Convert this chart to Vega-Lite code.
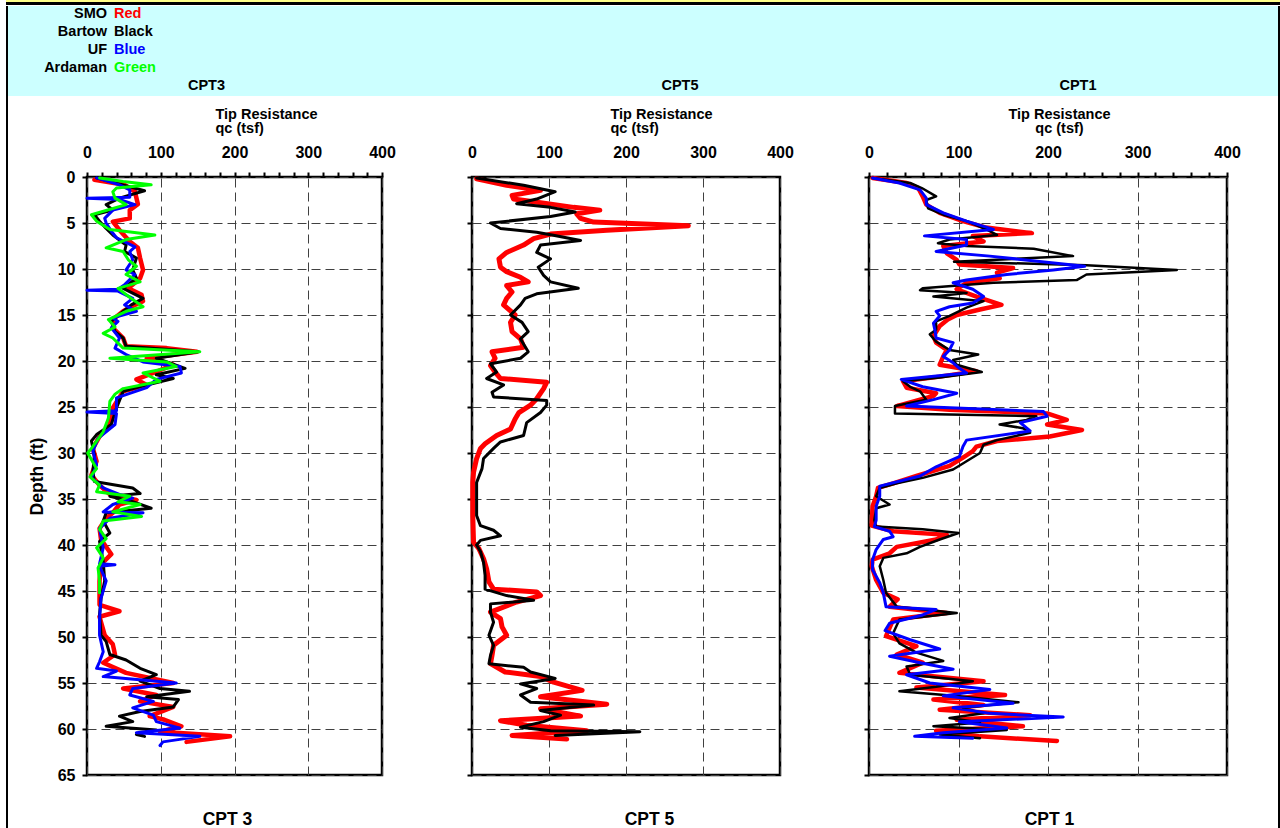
{
  "$schema": "https://vega.github.io/schema/vega-lite/v6.json",
  "padding": {"left": 6, "top": 0, "right": 0, "bottom": 0},
  "autosize": {"type": "pad"},
  "background": "white",
  "config": {
    "view": {"stroke": null},
    "font": "Liberation Sans",
    "axis": {"labelFont": "Liberation Sans", "titleFont": "Liberation Sans"},
    "title": {"font": "Liberation Sans"},
    "text": {"font": "Liberation Sans"}
  },
  "datasets": {
    "cpt3_smo": [{"depth":0.3,"qc":10},{"depth":0.85,"qc":51},{"depth":1.6,"qc":65},{"depth":2.95,"qc":69},{"depth":3.6,"qc":58},{"depth":4.5,"qc":58},{"depth":4.85,"qc":35},{"depth":5.75,"qc":44},{"depth":7.0,"qc":58},{"depth":7.7,"qc":69},{"depth":8.8,"qc":72},{"depth":10.1,"qc":76},{"depth":11.0,"qc":72},{"depth":12.1,"qc":56},{"depth":12.8,"qc":74},{"depth":13.5,"qc":76},{"depth":14.1,"qc":60},{"depth":14.6,"qc":49},{"depth":15.3,"qc":38},{"depth":16.4,"qc":35},{"depth":17.5,"qc":49},{"depth":18.4,"qc":53},{"depth":18.6,"qc":108},{"depth":19.0,"qc":149},{"depth":19.7,"qc":81},{"depth":20.4,"qc":117},{"depth":21.3,"qc":90},{"depth":22.0,"qc":67},{"depth":22.6,"qc":81},{"depth":23.3,"qc":49},{"depth":25.1,"qc":35},{"depth":26.9,"qc":31},{"depth":28.2,"qc":17},{"depth":29.5,"qc":8},{"depth":30.9,"qc":13},{"depth":32.4,"qc":6},{"depth":33.5,"qc":17},{"depth":34.5,"qc":31},{"depth":35.1,"qc":67},{"depth":35.6,"qc":44},{"depth":36.5,"qc":35},{"depth":37.1,"qc":26},{"depth":38.2,"qc":17},{"depth":39.4,"qc":19},{"depth":41.0,"qc":33},{"depth":42.1,"qc":19},{"depth":43.9,"qc":17},{"depth":45.4,"qc":17},{"depth":46.5,"qc":17},{"depth":47.2,"qc":44},{"depth":47.8,"qc":17},{"depth":49.8,"qc":24},{"depth":50.8,"qc":35},{"depth":51.9,"qc":38},{"depth":52.8,"qc":22},{"depth":53.9,"qc":53},{"depth":55.0,"qc":117},{"depth":55.6,"qc":49},{"depth":56.3,"qc":94},{"depth":57.0,"qc":72},{"depth":57.6,"qc":117},{"depth":58.6,"qc":85},{"depth":59.0,"qc":105},{"depth":59.7,"qc":128},{"depth":60.3,"qc":99},{"depth":60.8,"qc":194},{"depth":61.4,"qc":135}],
    "cpt3_bartow": [{"depth":0.1,"qc":13},{"depth":1.5,"qc":78},{"depth":2.3,"qc":44},{"depth":3.0,"qc":26},{"depth":3.6,"qc":35},{"depth":4.1,"qc":10},{"depth":4.8,"qc":17},{"depth":5.6,"qc":26},{"depth":6.3,"qc":35},{"depth":7.4,"qc":53},{"depth":8.1,"qc":51},{"depth":8.8,"qc":67},{"depth":10.1,"qc":62},{"depth":11.0,"qc":67},{"depth":12.1,"qc":49},{"depth":13.2,"qc":76},{"depth":13.9,"qc":60},{"depth":14.6,"qc":49},{"depth":15.7,"qc":33},{"depth":16.8,"qc":38},{"depth":17.5,"qc":49},{"depth":18.4,"qc":53},{"depth":19.0,"qc":151},{"depth":19.7,"qc":94},{"depth":20.8,"qc":133},{"depth":21.5,"qc":94},{"depth":21.9,"qc":117},{"depth":22.6,"qc":81},{"depth":23.3,"qc":49},{"depth":25.1,"qc":40},{"depth":26.9,"qc":33},{"depth":28.0,"qc":13},{"depth":28.7,"qc":6},{"depth":30.2,"qc":10},{"depth":32.0,"qc":8},{"depth":33.1,"qc":10},{"depth":33.8,"qc":62},{"depth":34.4,"qc":72},{"depth":34.7,"qc":31},{"depth":35.3,"qc":62},{"depth":36.0,"qc":87},{"depth":36.5,"qc":26},{"depth":37.4,"qc":22},{"depth":38.7,"qc":31},{"depth":39.6,"qc":17},{"depth":41.8,"qc":22},{"depth":43.9,"qc":24},{"depth":45.8,"qc":19},{"depth":47.6,"qc":17},{"depth":49.8,"qc":19},{"depth":50.5,"qc":26},{"depth":51.9,"qc":31},{"depth":52.5,"qc":53},{"depth":53.4,"qc":72},{"depth":54.1,"qc":94},{"depth":54.8,"qc":72},{"depth":55.6,"qc":99},{"depth":55.9,"qc":139},{"depth":56.5,"qc":81},{"depth":56.8,"qc":124},{"depth":57.6,"qc":117},{"depth":58.1,"qc":72},{"depth":58.6,"qc":44},{"depth":59.2,"qc":62},{"depth":59.7,"qc":26},{"depth":60.1,"qc":94},{"depth":60.6,"qc":67},{"depth":60.8,"qc":78}],
    "cpt3_uf": [{"depth":0.1,"qc":13},{"depth":0.85,"qc":44},{"depth":1.4,"qc":58},{"depth":2.2,"qc":58},{"depth":2.3,"qc":0},{"depth":2.45,"qc":44},{"depth":3.0,"qc":65},{"depth":3.6,"qc":35},{"depth":4.5,"qc":24},{"depth":5.0,"qc":26},{"depth":5.9,"qc":33},{"depth":6.6,"qc":40},{"depth":7.6,"qc":65},{"depth":8.1,"qc":58},{"depth":9.0,"qc":62},{"depth":10.1,"qc":53},{"depth":10.6,"qc":65},{"depth":11.7,"qc":51},{"depth":12.2,"qc":42},{"depth":12.3,"qc":0},{"depth":12.4,"qc":42},{"depth":13.2,"qc":62},{"depth":13.9,"qc":51},{"depth":14.6,"qc":67},{"depth":15.3,"qc":35},{"depth":15.7,"qc":42},{"depth":16.4,"qc":33},{"depth":17.5,"qc":44},{"depth":18.6,"qc":38},{"depth":19.3,"qc":53},{"depth":20.1,"qc":76},{"depth":20.6,"qc":126},{"depth":21.3,"qc":128},{"depth":22.0,"qc":94},{"depth":22.9,"qc":81},{"depth":24.0,"qc":40},{"depth":25.4,"qc":40},{"depth":25.55,"qc":0},{"depth":25.7,"qc":40},{"depth":26.9,"qc":38},{"depth":28.4,"qc":15},{"depth":29.8,"qc":8},{"depth":31.3,"qc":13},{"depth":32.7,"qc":6},{"depth":33.8,"qc":22},{"depth":34.5,"qc":44},{"depth":34.9,"qc":62},{"depth":35.6,"qc":35},{"depth":36.4,"qc":22},{"depth":36.5,"qc":76},{"depth":37.1,"qc":31},{"depth":38.2,"qc":17},{"depth":40.3,"qc":22},{"depth":42.05,"qc":17},{"depth":42.15,"qc":38},{"depth":42.3,"qc":17},{"depth":43.9,"qc":26},{"depth":45.8,"qc":19},{"depth":48.0,"qc":17},{"depth":49.8,"qc":17},{"depth":51.6,"qc":22},{"depth":52.7,"qc":17},{"depth":53.4,"qc":13},{"depth":53.7,"qc":40},{"depth":54.3,"qc":22},{"depth":55.0,"qc":121},{"depth":55.6,"qc":62},{"depth":56.3,"qc":58},{"depth":57.0,"qc":90},{"depth":57.7,"qc":62},{"depth":58.5,"qc":90},{"depth":59.2,"qc":94},{"depth":59.9,"qc":126},{"depth":60.4,"qc":67},{"depth":60.8,"qc":153},{"depth":61.4,"qc":103},{"depth":61.8,"qc":99}],
    "cpt3_ardaman": [{"depth":0.1,"qc":17},{"depth":0.5,"qc":49},{"depth":0.85,"qc":87},{"depth":1.2,"qc":40},{"depth":1.6,"qc":35},{"depth":2.3,"qc":38},{"depth":3.0,"qc":53},{"depth":4.1,"qc":6},{"depth":4.8,"qc":13},{"depth":5.7,"qc":31},{"depth":6.3,"qc":92},{"depth":6.8,"qc":53},{"depth":7.7,"qc":26},{"depth":8.1,"qc":49},{"depth":9.0,"qc":56},{"depth":9.7,"qc":67},{"depth":10.6,"qc":53},{"depth":11.4,"qc":72},{"depth":12.1,"qc":42},{"depth":13.2,"qc":60},{"depth":14.1,"qc":76},{"depth":14.6,"qc":53},{"depth":15.5,"qc":29},{"depth":16.3,"qc":38},{"depth":17.0,"qc":22},{"depth":17.5,"qc":35},{"depth":18.6,"qc":49},{"depth":19.0,"qc":153},{"depth":19.7,"qc":31},{"depth":20.1,"qc":108},{"depth":20.6,"qc":121},{"depth":21.3,"qc":76},{"depth":22.2,"qc":99},{"depth":23.0,"qc":49},{"depth":23.6,"qc":38},{"depth":24.4,"qc":31},{"depth":26.2,"qc":29},{"depth":27.7,"qc":22},{"depth":29.5,"qc":6},{"depth":30.0,"qc":1},{"depth":31.7,"qc":13},{"depth":32.6,"qc":4},{"depth":33.5,"qc":17},{"depth":34.2,"qc":13},{"depth":34.7,"qc":58},{"depth":35.3,"qc":42},{"depth":35.6,"qc":72},{"depth":36.4,"qc":35},{"depth":36.9,"qc":74},{"depth":37.4,"qc":22},{"depth":38.3,"qc":17},{"depth":39.3,"qc":26},{"depth":40.3,"qc":13},{"depth":41.4,"qc":22},{"depth":42.5,"qc":15},{"depth":43.9,"qc":17},{"depth":45.2,"qc":17}],
    "cpt5_smo": [{"depth":0.2,"qc":6},{"depth":0.9,"qc":45},{"depth":1.45,"qc":89},{"depth":2.0,"qc":52},{"depth":2.4,"qc":54},{"depth":2.7,"qc":80},{"depth":3.3,"qc":132},{"depth":3.6,"qc":166},{"depth":4.0,"qc":136},{"depth":4.5,"qc":141},{"depth":4.9,"qc":158},{"depth":5.3,"qc":281},{"depth":5.8,"qc":175},{"depth":6.2,"qc":102},{"depth":6.7,"qc":80},{"depth":7.4,"qc":67},{"depth":8.2,"qc":45},{"depth":8.9,"qc":35},{"depth":9.8,"qc":37},{"depth":10.3,"qc":45},{"depth":10.9,"qc":63},{"depth":11.4,"qc":73},{"depth":11.8,"qc":45},{"depth":12.5,"qc":52},{"depth":13.2,"qc":45},{"depth":13.9,"qc":41},{"depth":15.0,"qc":56},{"depth":15.8,"qc":50},{"depth":16.8,"qc":52},{"depth":17.6,"qc":63},{"depth":18.5,"qc":67},{"depth":19.0,"qc":26},{"depth":19.7,"qc":30},{"depth":20.5,"qc":24},{"depth":21.2,"qc":30},{"depth":21.9,"qc":37},{"depth":22.3,"qc":97},{"depth":23.0,"qc":93},{"depth":24.1,"qc":84},{"depth":24.8,"qc":76},{"depth":25.6,"qc":61},{"depth":26.3,"qc":56},{"depth":27.4,"qc":50},{"depth":28.1,"qc":32},{"depth":29.0,"qc":17},{"depth":29.5,"qc":11},{"depth":30.6,"qc":6},{"depth":32.1,"qc":2},{"depth":33.2,"qc":1},{"depth":36.8,"qc":1},{"depth":39.7,"qc":2},{"depth":40.4,"qc":9},{"depth":41.5,"qc":15},{"depth":42.6,"qc":19},{"depth":44.0,"qc":22},{"depth":44.8,"qc":28},{"depth":45.1,"qc":84},{"depth":45.5,"qc":89},{"depth":46.2,"qc":58},{"depth":47.3,"qc":24},{"depth":48.0,"qc":37},{"depth":48.9,"qc":39},{"depth":49.8,"qc":45},{"depth":50.9,"qc":28},{"depth":52.0,"qc":26},{"depth":52.9,"qc":24},{"depth":53.8,"qc":43},{"depth":54.3,"qc":89},{"depth":54.9,"qc":106},{"depth":55.8,"qc":143},{"depth":56.5,"qc":89},{"depth":57.3,"qc":175},{"depth":57.8,"qc":89},{"depth":58.6,"qc":141},{"depth":59.1,"qc":37},{"depth":59.6,"qc":71},{"depth":60.2,"qc":149},{"depth":60.7,"qc":52},{"depth":61.1,"qc":123}],
    "cpt5_bartow": [{"depth":0.1,"qc":6},{"depth":0.9,"qc":67},{"depth":1.6,"qc":108},{"depth":2.4,"qc":84},{"depth":2.9,"qc":58},{"depth":3.3,"qc":102},{"depth":3.8,"qc":134},{"depth":4.3,"qc":102},{"depth":5.0,"qc":24},{"depth":5.6,"qc":37},{"depth":6.0,"qc":84},{"depth":6.3,"qc":104},{"depth":6.9,"qc":141},{"depth":7.4,"qc":89},{"depth":8.2,"qc":84},{"depth":8.9,"qc":102},{"depth":9.8,"qc":86},{"depth":10.7,"qc":93},{"depth":11.4,"qc":102},{"depth":12.1,"qc":138},{"depth":12.7,"qc":84},{"depth":13.2,"qc":69},{"depth":13.9,"qc":63},{"depth":15.0,"qc":50},{"depth":15.8,"qc":65},{"depth":16.8,"qc":73},{"depth":17.6,"qc":63},{"depth":19.0,"qc":73},{"depth":19.7,"qc":63},{"depth":20.3,"qc":24},{"depth":21.2,"qc":32},{"depth":21.9,"qc":19},{"depth":22.6,"qc":41},{"depth":23.4,"qc":26},{"depth":23.9,"qc":28},{"depth":24.3,"qc":97},{"depth":24.8,"qc":97},{"depth":25.6,"qc":89},{"depth":26.7,"qc":71},{"depth":28.1,"qc":67},{"depth":28.8,"qc":37},{"depth":29.5,"qc":28},{"depth":30.6,"qc":15},{"depth":31.7,"qc":13},{"depth":33.2,"qc":6},{"depth":36.8,"qc":6},{"depth":37.9,"qc":11},{"depth":38.4,"qc":28},{"depth":39.0,"qc":37},{"depth":39.5,"qc":11},{"depth":40.0,"qc":6},{"depth":40.7,"qc":11},{"depth":41.9,"qc":15},{"depth":43.3,"qc":17},{"depth":44.8,"qc":17},{"depth":45.5,"qc":45},{"depth":46.0,"qc":80},{"depth":46.4,"qc":24},{"depth":47.3,"qc":24},{"depth":48.4,"qc":28},{"depth":49.8,"qc":22},{"depth":50.9,"qc":28},{"depth":52.0,"qc":24},{"depth":52.9,"qc":22},{"depth":53.3,"qc":67},{"depth":53.8,"qc":76},{"depth":54.5,"qc":108},{"depth":55.1,"qc":63},{"depth":55.6,"qc":84},{"depth":56.3,"qc":63},{"depth":57.1,"qc":76},{"depth":57.4,"qc":158},{"depth":58.0,"qc":89},{"depth":58.5,"qc":115},{"depth":59.2,"qc":93},{"depth":59.8,"qc":63},{"depth":60.2,"qc":102},{"depth":60.3,"qc":218},{"depth":60.7,"qc":108}],
    "cpt1_smo": [{"depth":0.1,"qc":4},{"depth":0.65,"qc":42},{"depth":1.2,"qc":55},{"depth":2.1,"qc":60},{"depth":3.0,"qc":64},{"depth":3.9,"qc":79},{"depth":4.8,"qc":105},{"depth":5.5,"qc":131},{"depth":6.1,"qc":182},{"depth":6.4,"qc":116},{"depth":7.0,"qc":128},{"depth":7.5,"qc":83},{"depth":8.3,"qc":87},{"depth":9.0,"qc":98},{"depth":9.5,"qc":101},{"depth":9.9,"qc":161},{"depth":10.4,"qc":143},{"depth":11.0,"qc":146},{"depth":11.5,"qc":109},{"depth":12.2,"qc":98},{"depth":13.0,"qc":120},{"depth":13.9,"qc":148},{"depth":14.4,"qc":124},{"depth":15.0,"qc":98},{"depth":15.5,"qc":88},{"depth":16.2,"qc":79},{"depth":17.3,"qc":72},{"depth":18.0,"qc":75},{"depth":18.8,"qc":87},{"depth":19.5,"qc":83},{"depth":20.4,"qc":79},{"depth":21.1,"qc":120},{"depth":21.7,"qc":79},{"depth":22.2,"qc":38},{"depth":22.9,"qc":42},{"depth":23.5,"qc":75},{"depth":23.8,"qc":72},{"depth":24.9,"qc":31},{"depth":25.3,"qc":90},{"depth":25.7,"qc":199},{"depth":26.4,"qc":221},{"depth":26.9,"qc":199},{"depth":27.5,"qc":238},{"depth":28.2,"qc":202},{"depth":28.7,"qc":143},{"depth":29.3,"qc":120},{"depth":29.8,"qc":116},{"depth":30.5,"qc":105},{"depth":31.4,"qc":90},{"depth":32.5,"qc":53},{"depth":33.3,"qc":27},{"depth":33.8,"qc":10},{"depth":34.7,"qc":8},{"depth":35.8,"qc":4},{"depth":37.9,"qc":3},{"depth":38.5,"qc":27},{"depth":38.9,"qc":87},{"depth":39.4,"qc":75},{"depth":40.2,"qc":31},{"depth":40.9,"qc":23},{"depth":41.6,"qc":4},{"depth":42.3,"qc":3},{"depth":43.8,"qc":8},{"depth":45.2,"qc":16},{"depth":45.9,"qc":32},{"depth":46.7,"qc":23},{"depth":47.4,"qc":87},{"depth":48.1,"qc":27},{"depth":49.9,"qc":19},{"depth":51.0,"qc":53},{"depth":51.9,"qc":31},{"depth":52.8,"qc":60},{"depth":53.9,"qc":34},{"depth":54.8,"qc":128},{"depth":55.5,"qc":53},{"depth":56.3,"qc":152},{"depth":56.8,"qc":72},{"depth":57.4,"qc":128},{"depth":57.9,"qc":79},{"depth":58.5,"qc":180},{"depth":59.0,"qc":98},{"depth":59.7,"qc":172},{"depth":60.2,"qc":75},{"depth":60.8,"qc":124},{"depth":61.3,"qc":210}],
    "cpt1_bartow": [{"depth":0.1,"qc":4},{"depth":0.65,"qc":46},{"depth":1.2,"qc":59},{"depth":2.1,"qc":75},{"depth":2.5,"qc":64},{"depth":3.4,"qc":66},{"depth":4.1,"qc":83},{"depth":4.8,"qc":109},{"depth":5.7,"qc":131},{"depth":6.3,"qc":143},{"depth":6.8,"qc":90},{"depth":7.2,"qc":77},{"depth":7.5,"qc":109},{"depth":7.8,"qc":184},{"depth":8.6,"qc":228},{"depth":9.2,"qc":95},{"depth":9.6,"qc":243},{"depth":10.1,"qc":344},{"depth":10.6,"qc":243},{"depth":11.2,"qc":232},{"depth":11.5,"qc":139},{"depth":12.1,"qc":60},{"depth":12.3,"qc":57},{"depth":12.6,"qc":109},{"depth":13.0,"qc":72},{"depth":13.5,"qc":128},{"depth":14.2,"qc":109},{"depth":15.1,"qc":90},{"depth":15.7,"qc":75},{"depth":16.6,"qc":75},{"depth":17.1,"qc":68},{"depth":17.9,"qc":75},{"depth":18.8,"qc":90},{"depth":19.3,"qc":122},{"depth":19.9,"qc":94},{"depth":20.4,"qc":98},{"depth":21.2,"qc":126},{"depth":21.8,"qc":79},{"depth":22.2,"qc":38},{"depth":22.8,"qc":46},{"depth":23.3,"qc":57},{"depth":24.2,"qc":64},{"depth":24.9,"qc":29},{"depth":25.7,"qc":29},{"depth":26.0,"qc":187},{"depth":26.4,"qc":176},{"depth":26.9,"qc":146},{"depth":27.3,"qc":172},{"depth":27.8,"qc":180},{"depth":28.6,"qc":143},{"depth":29.1,"qc":128},{"depth":30.0,"qc":124},{"depth":30.9,"qc":109},{"depth":31.8,"qc":94},{"depth":32.7,"qc":60},{"depth":33.3,"qc":31},{"depth":33.8,"qc":12},{"depth":34.7,"qc":8},{"depth":35.6,"qc":23},{"depth":36.0,"qc":8},{"depth":37.3,"qc":6},{"depth":38.0,"qc":8},{"depth":38.3,"qc":60},{"depth":38.7,"qc":100},{"depth":39.4,"qc":79},{"depth":40.2,"qc":57},{"depth":40.9,"qc":42},{"depth":41.4,"qc":16},{"depth":42.3,"qc":12},{"depth":43.8,"qc":16},{"depth":45.2,"qc":19},{"depth":46.7,"qc":31},{"depth":47.4,"qc":98},{"depth":48.1,"qc":34},{"depth":49.6,"qc":27},{"depth":50.7,"qc":34},{"depth":51.7,"qc":53},{"depth":52.6,"qc":83},{"depth":53.2,"qc":42},{"depth":54.1,"qc":46},{"depth":54.8,"qc":116},{"depth":55.4,"qc":75},{"depth":55.9,"qc":34},{"depth":56.4,"qc":98},{"depth":57.1,"qc":167},{"depth":57.7,"qc":105},{"depth":58.3,"qc":128},{"depth":58.8,"qc":90},{"depth":59.3,"qc":124},{"depth":59.7,"qc":72},{"depth":60.1,"qc":154},{"depth":60.6,"qc":79},{"depth":61.0,"qc":124}],
    "cpt1_uf": [{"depth":0.1,"qc":4},{"depth":0.65,"qc":34},{"depth":1.4,"qc":57},{"depth":2.3,"qc":64},{"depth":3.0,"qc":64},{"depth":3.9,"qc":83},{"depth":4.8,"qc":109},{"depth":5.7,"qc":139},{"depth":6.4,"qc":62},{"depth":6.8,"qc":109},{"depth":7.4,"qc":109},{"depth":8.1,"qc":75},{"depth":8.6,"qc":135},{"depth":9.7,"qc":241},{"depth":10.1,"qc":206},{"depth":10.6,"qc":154},{"depth":11.2,"qc":109},{"depth":11.5,"qc":94},{"depth":12.2,"qc":116},{"depth":13.0,"qc":128},{"depth":13.7,"qc":116},{"depth":14.1,"qc":90},{"depth":14.6,"qc":75},{"depth":15.1,"qc":79},{"depth":15.9,"qc":72},{"depth":16.8,"qc":74},{"depth":17.5,"qc":75},{"depth":18.0,"qc":94},{"depth":18.8,"qc":90},{"depth":19.5,"qc":83},{"depth":20.2,"qc":94},{"depth":20.8,"qc":101},{"depth":21.3,"qc":109},{"depth":22.0,"qc":36},{"depth":22.8,"qc":60},{"depth":23.5,"qc":98},{"depth":24.2,"qc":72},{"depth":24.9,"qc":42},{"depth":25.5,"qc":195},{"depth":26.0,"qc":199},{"depth":26.7,"qc":169},{"depth":27.6,"qc":180},{"depth":28.6,"qc":109},{"depth":29.3,"qc":105},{"depth":30.4,"qc":101},{"depth":31.5,"qc":75},{"depth":32.5,"qc":57},{"depth":33.6,"qc":12},{"depth":34.7,"qc":12},{"depth":35.8,"qc":8},{"depth":37.3,"qc":8},{"depth":38.0,"qc":6},{"depth":38.5,"qc":23},{"depth":39.1,"qc":27},{"depth":39.4,"qc":16},{"depth":40.5,"qc":8},{"depth":41.6,"qc":4},{"depth":42.7,"qc":4},{"depth":44.1,"qc":12},{"depth":45.2,"qc":16},{"depth":46.7,"qc":19},{"depth":47.0,"qc":75},{"depth":47.6,"qc":60},{"depth":48.5,"qc":23},{"depth":49.3,"qc":18},{"depth":50.3,"qc":46},{"depth":51.3,"qc":79},{"depth":52.1,"qc":23},{"depth":52.8,"qc":57},{"depth":53.5,"qc":94},{"depth":54.1,"qc":42},{"depth":55.0,"qc":68},{"depth":55.7,"qc":135},{"depth":56.4,"qc":83},{"depth":57.2,"qc":161},{"depth":57.7,"qc":94},{"depth":58.3,"qc":135},{"depth":58.7,"qc":217},{"depth":59.2,"qc":101},{"depth":59.9,"qc":154},{"depth":60.4,"qc":83},{"depth":60.8,"qc":51},{"depth":61.0,"qc":116}]
  },
  "spacing": 0,
  "vconcat": [
    {"width": 1274, "height": 2, "view": {"fill": "#ffff88", "stroke": null}, "data": {"values": []}, "mark": "text"},
    {"width": 1274, "height": 3, "view": {"fill": "#000000", "stroke": null}, "data": {"values": []}, "mark": "text"},
    {
      "spacing": 0,
      "hconcat": [
        {"width": 2, "height": 823, "view": {"fill": "#000000", "stroke": null}, "data": {"values": []}, "mark": "text"},
        {
          "spacing": 81,
          "bounds": "flush",
          "vconcat": [
            {
              "width": 1270, "height": 90,
              "view": {"fill": "#ccffff", "stroke": null},
              "data": {"values": [
                {"source": "SMO", "colour": "Red"},
                {"source": "Bartow", "colour": "Black"},
                {"source": "UF", "colour": "Blue"},
                {"source": "Ardaman", "colour": "Green"}
              ]},
              "encoding": {
                "y": {"field": "source", "type": "nominal", "scale": {"type": "point", "domain": ["SMO", "Bartow", "UF", "Ardaman"], "range": [7.5, 62], "padding": 0}, "axis": null}
              },
              "layer": [
                {
                  "mark": {"type": "text", "align": "right", "baseline": "middle", "font": "Liberation Sans", "fontSize": 14.5, "fontWeight": "bold", "color": "#000000"},
                  "encoding": {
                    "x": {"datum": "name", "type": "nominal", "scale": {"type": "point", "domain": ["name", "colour"], "range": [99, 106], "padding": 0}, "axis": null},
                    "text": {"field": "source", "type": "nominal"}
                  }
                },
                {
                  "mark": {"type": "text", "align": "left", "baseline": "middle", "font": "Liberation Sans", "fontSize": 14.5, "fontWeight": "bold"},
                  "encoding": {
                    "x": {"datum": "colour", "type": "nominal", "axis": null},
                    "text": {"field": "colour", "type": "nominal"},
                    "color": {"field": "source", "type": "nominal", "scale": {"domain": ["SMO", "Bartow", "UF", "Ardaman"], "range": ["#ff0000", "#000000", "#0000ff", "#00ff00"]}, "legend": null}
                  }
                }
              ]
            },
            {
              "spacing": 0,
              "bounds": "flush",
              "hconcat": [
                {"width": 79, "height": 598, "data": {"values": []}, "mark": "text"},
                {
                  "width": 295, "height": 598,
                  "view": {"stroke": "#000000", "strokeWidth": 2.5, "fill": "white"},
                  "title": {"text": "CPT3", "font": "Liberation Sans", "fontSize": 14.5, "fontWeight": "bold", "color": "#000000", "frame": "group", "anchor": "middle", "dx": -28, "offset": 13},
                  "resolve": {"axis": {"x": "independent", "y": "independent"}},
                  "layer": [
                    {
                      "data": {"name": "cpt3_smo"},
                      "mark": {"type": "line", "color": "#ff0000", "strokeWidth": 4.5, "strokeJoin": "round", "strokeCap": "round"},
                      "encoding": {
                        "x": {"field": "qc", "type": "quantitative", "scale": {"domain": [0, 400], "nice": false, "zero": false},
                          "axis": {"orient": "top", "values": [0,20,40,60,80,100,120,140,160,180,200,220,240,260,280,300,320,340,360,380,400], "labelExpr": "datum.value % 100 === 0 ? datum.label : ''", "labelFont": "Liberation Sans", "labelFontSize": 16, "labelFontWeight": "bold", "labelColor": "#000000", "labelPadding": 12, "labelFlush": false, "labelOverlap": false, "labelBound": false, "ticks": true, "tickSize": 5, "tickWidth": 2, "tickColor": "#000000", "domain": false, "grid": false, "title": ["Tip Resistance", "qc (tsf)"], "titleFont": "Liberation Sans", "titleFontSize": 14.5, "titleFontWeight": "bold", "titleColor": "#000000", "titleLineHeight": 13.5, "titlePadding": 9, "titleAlign": "left", "titleX": 128}},
                        "y": {"field": "depth", "type": "quantitative", "scale": {"domain": [0, 65], "reverse": true, "nice": false, "zero": false},
                          "axis": {"orient": "left", "values": [0,5,10,15,20,25,30,35,40,45,50,55,60,65], "labelFont": "Liberation Sans", "labelFontSize": 16, "labelFontWeight": "bold", "labelColor": "#000000", "labelPadding": 7, "labelFlush": false, "labelOverlap": false, "ticks": true, "tickSize": 5, "tickWidth": 2, "tickColor": "#000000", "domain": false, "grid": true, "gridColor": "#404040", "gridDash": [9, 5], "gridWidth": 1, "title": "Depth (ft)", "titleFont": "Liberation Sans", "titleFontSize": 17.5, "titleFontWeight": "bold", "titleColor": "#000000", "titlePadding": 11}},
                        "order": {"field": "depth", "type": "quantitative"}
                      }
                    },
                    {
                      "data": {"name": "cpt3_bartow"},
                      "mark": {"type": "line", "color": "#000000", "strokeWidth": 3, "strokeJoin": "round", "strokeCap": "round"},
                      "encoding": {
                        "x": {"field": "qc", "type": "quantitative",
                          "axis": {"orient": "bottom", "values": [0, 100, 200, 300, 400], "labels": false, "ticks": false, "domain": false, "grid": true, "gridColor": "#404040", "gridDash": [9, 5], "gridWidth": 1, "title": "CPT 3", "titleFont": "Liberation Sans", "titleFontSize": 17.5, "titleFontWeight": "bold", "titleColor": "#000000", "titlePadding": 35, "titleX": 140, "titleAlign": "center"}},
                        "y": {"field": "depth", "type": "quantitative", "axis": null},
                        "order": {"field": "depth", "type": "quantitative"}
                      }
                    },
                    {
                      "data": {"name": "cpt3_uf"},
                      "mark": {"type": "line", "color": "#0000ff", "strokeWidth": 3, "strokeJoin": "round", "strokeCap": "round"},
                      "encoding": {
                        "x": {"field": "qc", "type": "quantitative", "axis": null},
                        "y": {"field": "depth", "type": "quantitative", "axis": null},
                        "order": {"field": "depth", "type": "quantitative"}
                      }
                    },
                    {
                      "data": {"name": "cpt3_ardaman"},
                      "mark": {"type": "line", "color": "#00ff00", "strokeWidth": 3, "strokeJoin": "round", "strokeCap": "round"},
                      "encoding": {
                        "x": {"field": "qc", "type": "quantitative", "axis": null},
                        "y": {"field": "depth", "type": "quantitative", "axis": null},
                        "order": {"field": "depth", "type": "quantitative"}
                      }
                    }
                  ]
                },
                {"width": 90, "height": 598, "data": {"values": []}, "mark": "text"},
                {
                  "width": 308, "height": 598,
                  "view": {"stroke": "#000000", "strokeWidth": 2.5, "fill": "white"},
                  "title": {"text": "CPT5", "font": "Liberation Sans", "fontSize": 14.5, "fontWeight": "bold", "color": "#000000", "frame": "group", "anchor": "middle", "dx": 54, "offset": 13},
                  "resolve": {"axis": {"x": "independent", "y": "independent"}},
                  "layer": [
                    {
                      "data": {"name": "cpt5_smo"},
                      "mark": {"type": "line", "color": "#ff0000", "strokeWidth": 5, "strokeJoin": "round", "strokeCap": "round"},
                      "encoding": {
                        "x": {"field": "qc", "type": "quantitative", "scale": {"domain": [0, 400], "nice": false, "zero": false},
                          "axis": {"orient": "top", "values": [0, 100, 200, 300, 400], "labelFont": "Liberation Sans", "labelFontSize": 16, "labelFontWeight": "bold", "labelColor": "#000000", "labelPadding": 17, "labelFlush": false, "labelOverlap": false, "labelBound": false, "ticks": false, "domain": false, "grid": false, "title": ["Tip Resistance", "qc (tsf)"], "titleFont": "Liberation Sans", "titleFontSize": 14.5, "titleFontWeight": "bold", "titleColor": "#000000", "titleLineHeight": 13.5, "titlePadding": 9, "titleAlign": "left", "titleX": 138}},
                        "y": {"field": "depth", "type": "quantitative", "scale": {"domain": [0, 65], "reverse": true, "nice": false, "zero": false},
                          "axis": {"orient": "left", "values": [0,5,10,15,20,25,30,35,40,45,50,55,60,65], "labels": false, "ticks": true, "tickSize": 5, "tickWidth": 2, "tickColor": "#000000", "domain": false, "grid": true, "gridColor": "#404040", "gridDash": [9, 5], "gridWidth": 1, "title": null}},
                        "order": {"field": "depth", "type": "quantitative"}
                      }
                    },
                    {
                      "data": {"name": "cpt5_bartow"},
                      "mark": {"type": "line", "color": "#000000", "strokeWidth": 3, "strokeJoin": "round", "strokeCap": "round"},
                      "encoding": {
                        "x": {"field": "qc", "type": "quantitative",
                          "axis": {"orient": "bottom", "values": [0, 100, 200, 300, 400], "labels": false, "ticks": false, "domain": false, "grid": true, "gridColor": "#404040", "gridDash": [9, 5], "gridWidth": 1, "title": "CPT 5", "titleFont": "Liberation Sans", "titleFontSize": 17.5, "titleFontWeight": "bold", "titleColor": "#000000", "titlePadding": 35, "titleX": 177, "titleAlign": "center"}},
                        "y": {"field": "depth", "type": "quantitative", "axis": null},
                        "order": {"field": "depth", "type": "quantitative"}
                      }
                    }
                  ]
                },
                {"width": 89, "height": 598, "data": {"values": []}, "mark": "text"},
                {
                  "width": 358, "height": 598,
                  "view": {"stroke": "#000000", "strokeWidth": 2.5, "fill": "white"},
                  "title": {"text": "CPT1", "font": "Liberation Sans", "fontSize": 14.5, "fontWeight": "bold", "color": "#000000", "frame": "group", "anchor": "middle", "dx": 30, "offset": 13},
                  "resolve": {"axis": {"x": "independent", "y": "independent"}},
                  "layer": [
                    {
                      "data": {"name": "cpt1_smo"},
                      "mark": {"type": "line", "color": "#ff0000", "strokeWidth": 4.5, "strokeJoin": "round", "strokeCap": "round"},
                      "encoding": {
                        "x": {"field": "qc", "type": "quantitative", "scale": {"domain": [0, 400], "nice": false, "zero": false},
                          "axis": {"orient": "top", "values": [0,20,40,60,80,100,120,140,160,180,200,220,240,260,280,300,320,340,360,380,400], "labelExpr": "datum.value % 100 === 0 ? datum.label : ''", "labelFont": "Liberation Sans", "labelFontSize": 16, "labelFontWeight": "bold", "labelColor": "#000000", "labelPadding": 12, "labelFlush": false, "labelOverlap": false, "labelBound": false, "ticks": true, "tickSize": 5, "tickWidth": 2, "tickColor": "#000000", "domain": false, "grid": false, "title": ["Tip Resistance", "qc (tsf)"], "titleFont": "Liberation Sans", "titleFontSize": 14.5, "titleFontWeight": "bold", "titleColor": "#000000", "titleLineHeight": 13.5, "titlePadding": 9, "titleAlign": "center", "titleX": 190}},
                        "y": {"field": "depth", "type": "quantitative", "scale": {"domain": [0, 65], "reverse": true, "nice": false, "zero": false},
                          "axis": {"orient": "left", "values": [0,5,10,15,20,25,30,35,40,45,50,55,60,65], "labels": false, "ticks": true, "tickSize": 5, "tickWidth": 2, "tickColor": "#000000", "domain": false, "grid": true, "gridColor": "#404040", "gridDash": [9, 5], "gridWidth": 1, "title": null}},
                        "order": {"field": "depth", "type": "quantitative"}
                      }
                    },
                    {
                      "data": {"name": "cpt1_bartow"},
                      "mark": {"type": "line", "color": "#000000", "strokeWidth": 2.5, "strokeJoin": "round", "strokeCap": "round"},
                      "encoding": {
                        "x": {"field": "qc", "type": "quantitative",
                          "axis": {"orient": "bottom", "values": [0, 100, 200, 300, 400], "labels": false, "ticks": false, "domain": false, "grid": true, "gridColor": "#404040", "gridDash": [9, 5], "gridWidth": 1, "title": "CPT 1", "titleFont": "Liberation Sans", "titleFontSize": 17.5, "titleFontWeight": "bold", "titleColor": "#000000", "titlePadding": 35, "titleX": 180, "titleAlign": "center"}},
                        "y": {"field": "depth", "type": "quantitative", "axis": null},
                        "order": {"field": "depth", "type": "quantitative"}
                      }
                    },
                    {
                      "data": {"name": "cpt1_uf"},
                      "mark": {"type": "line", "color": "#0000ff", "strokeWidth": 3, "strokeJoin": "round", "strokeCap": "round"},
                      "encoding": {
                        "x": {"field": "qc", "type": "quantitative", "axis": null},
                        "y": {"field": "depth", "type": "quantitative", "axis": null},
                        "order": {"field": "depth", "type": "quantitative"}
                      }
                    }
                  ]
                }
              ]
            }
          ]
        },
        {"width": 2, "height": 823, "view": {"fill": "#000000", "stroke": null}, "data": {"values": []}, "mark": "text"}
      ]
    }
  ]
}
